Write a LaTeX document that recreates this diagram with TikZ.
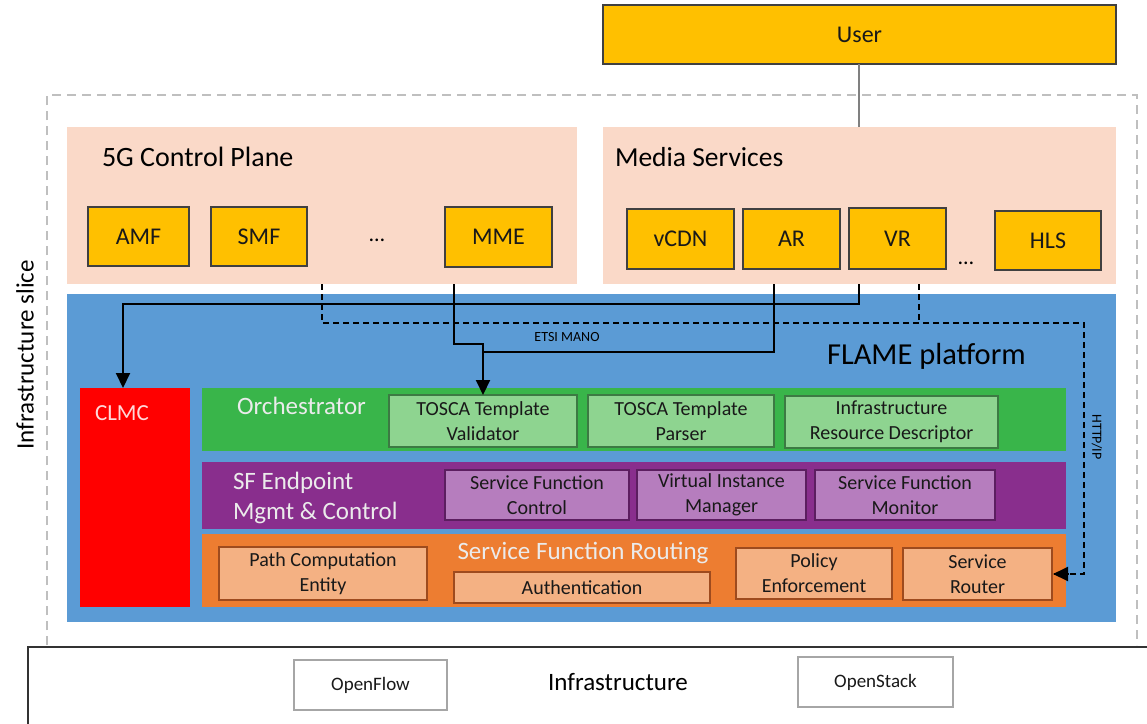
\documentclass[tikz,border=0pt]{standalone}
\usepackage{fontspec}
\setmainfont{Carlito}
\usetikzlibrary{arrows.meta}
\definecolor{gold}{HTML}{FFC000}
\definecolor{peach}{HTML}{FAD9C8}
\definecolor{flblue}{HTML}{5B9BD5}
\definecolor{orchg}{HTML}{39B54A}
\definecolor{orchin}{HTML}{8ED490}
\definecolor{orchbd}{HTML}{3C7A43}
\definecolor{purp}{HTML}{892E8D}
\definecolor{purpin}{HTML}{B67DBE}
\definecolor{purpbd}{HTML}{5C1E60}
\definecolor{orng}{HTML}{ED7D31}
\definecolor{orngin}{HTML}{F4B183}
\definecolor{orngbd}{HTML}{9E4B1E}
\definecolor{slicegray}{HTML}{BFBFBF}
\definecolor{lighttxt}{HTML}{EBEBEB}
\newcommand{\mkbox}[7]{\node[#2, anchor=north west, minimum width={#5-#3}, minimum height={#6-#4}] (#1) at (#3,#4) {#7};}
\tikzset{
  base/.style={inner sep=0pt, outer sep=0pt, align=center, text=black!90},
  goldbox/.style={base, fill=gold, draw=black!75, line width=1.3pt, font=\fontsize{24}{28}\selectfont},
  peachbox/.style={base, fill=peach},
  greenin/.style={base, fill=orchin, draw=orchbd, line width=1.8pt, font=\fontsize{20}{25}\selectfont},
  purpin/.style={base, fill=purpin, draw=purpbd, line width=1.8pt, font=\fontsize{20}{25}\selectfont},
  orngin/.style={base, fill=orngin, draw=orngbd, line width=1.8pt, font=\fontsize{20}{25}\selectfont},
  infrabox/.style={base, fill=white, draw=black!35, line width=2pt, font=\fontsize{19}{23}\selectfont},
  conn/.style={line width=2pt, black},
  dconn/.style={line width=2pt, black, dash pattern=on 6pt off 4pt},
  tip/.style={-{Triangle[length=15pt,width=14pt]}},
  lbl/.style={inner sep=0pt, outer sep=0pt},
}
\begin{document}
\begin{tikzpicture}[x=1pt,y=-1pt]
\useasboundingbox (0,0) rectangle (1147,723);
\fill[white] (0,0) rectangle (1147,723);
% infrastructure slice outline
\draw[slicegray, line width=2.5pt, dash pattern=on 9pt off 6pt] (47,645) -- (47,95) -- (1137,95) -- (1137,645);
\node[lbl, rotate=90, font=\fontsize{25}{30}\selectfont] (slice) at (25,355) {Infrastructure slice};
% user
\mkbox{user}{goldbox}{603}{5}{1116}{64}{User}
% upper containers
\mkbox{cp}{peachbox}{67}{127}{577}{284}{}
\mkbox{ms}{peachbox}{603}{127}{1116}{284}{}
\node[lbl, anchor=west, font=\fontsize{28}{33}\selectfont] (cpl) at (102,157) {5G Control Plane};
\node[lbl, anchor=west, font=\fontsize{27.5}{33}\selectfont] (msl) at (615,157) {Media Services};
\draw[black!50, line width=2pt] (user.south -| 859,0) coordinate (u1) -- (ms.north -| u1);
\mkbox{amf}{goldbox}{88}{207}{189}{266}{AMF}
\mkbox{smf}{goldbox}{211}{207}{307}{266}{SMF}
\node[lbl, font=\fontsize{22}{26}\selectfont] (dots1) at (377,240) {…};
\mkbox{mme}{goldbox}{445}{207}{552}{267}{MME}
\mkbox{vcdn}{goldbox}{627}{209}{734}{269}{vCDN}
\mkbox{ar}{goldbox}{743}{209}{840}{269}{AR}
\mkbox{vr}{goldbox}{849}{208}{946}{269}{VR}
\node[lbl, font=\fontsize{22}{26}\selectfont] (dots2) at (966,263) {…};
\mkbox{hls}{goldbox}{995}{211}{1101}{270}{HLS}
% FLAME platform
\mkbox{flame}{base, fill=flblue}{67}{294}{1116}{622}{}
\node[lbl, anchor=west, font=\fontsize{30.5}{36}\selectfont] (flamel) at (827,356) {FLAME platform};
\mkbox{clmc}{base, fill=red}{80}{388}{190}{607}{}
\node[lbl, anchor=west, text=white!85!red, font=\fontsize{23}{28}\selectfont] (clmcl) at (95,413) {CLMC};
% orchestrator
\mkbox{orch}{base, fill=orchg}{202}{388}{1066}{451}{}
\node[lbl, anchor=west, text=lighttxt, font=\fontsize{25}{30}\selectfont] (orchl) at (237,406) {Orchestrator};
\mkbox{val}{greenin}{389}{395}{577}{447}{TOSCA Template\\Validator}
\mkbox{par}{greenin}{588}{395}{774}{447}{TOSCA Template\\Parser}
\mkbox{ird}{greenin}{785}{396}{998}{448}{Infrastructure\\Resource Descriptor}
% SF endpoint
\mkbox{sfe}{base, fill=purp}{202}{462}{1066}{529}{}
\node[lbl, anchor=west, align=left, text=lighttxt, font=\fontsize{25}{30}\selectfont] (sfel) at (233,498) {SF Endpoint\\Mgmt \& Control};
\mkbox{sfc}{purpin}{445}{470}{629}{520}{Service Function\\Control}
\mkbox{vim}{purpin}{637}{470}{806}{520}{Virtual Instance\\Manager}
\mkbox{sfm}{purpin}{815}{470}{995}{520}{Service Function\\Monitor}
% service function routing
\mkbox{sfr}{base, fill=orng}{202}{534}{1066}{607}{}
\node[lbl, text=lighttxt, font=\fontsize{25}{30}\selectfont] (sfrl) at (583,553) {Service Function Routing};
\mkbox{pce}{orngin}{219}{547}{427}{600}{Path Computation\\Entity}
\mkbox{auth}{orngin}{454}{572}{710}{603}{Authentication}
\mkbox{pe}{orngin}{736}{548}{892}{599}{Policy\\Enforcement}
\mkbox{sr}{orngin}{903}{548}{1052}{600}{Service\\Router}
% infrastructure
\draw[black!80, line width=1.5pt] (1150,647) -- (28,647) -- (28,726);
\node[lbl, font=\fontsize{25}{30}\selectfont] (infl) at (618,682) {Infrastructure};
\mkbox{of}{infrabox}{294}{660}{447}{710}{OpenFlow}
\mkbox{os}{infrabox}{798}{657}{953}{707}{OpenStack}
% connectors
\coordinate (vrout) at (cp.south -| 859,0);
\coordinate (arout) at (cp.south -| 774,0);
\coordinate (mmeout) at (cp.south -| 454,0);
\coordinate (cpdash) at (cp.south -| 322,0);
\coordinate (msdash) at (cp.south -| 919,0);
\coordinate (clmcin) at (clmc.north -| 123,0);
\coordinate (mmejog) at (454,344);
\coordinate (manoj) at (val.north |- 0,352);
\coordinate (dashy) at (322,323);
\coordinate (dashx) at (1084,323);
\draw[conn, tip] (vrout) |- (clmcin |- 0,304) -- (clmcin);
\draw[conn, tip] (mmeout) -- (mmejog) -| (val.north);
\draw[conn] (arout) |- (manoj);
\draw[dconn] (cpdash) -- (dashy) -- (dashx) |- ([xshift=2pt]sr.east);
\draw[dconn] (msdash) -- (msdash |- dashy);
\draw[conn, tip] ([xshift=16pt]sr.east) -- ([xshift=1pt]sr.east);
\node[lbl, font=\fontsize{14}{17}\selectfont] (mano) at (567,337) {ETSI MANO};
\node[lbl, rotate=-90, font=\fontsize{14}{17}\selectfont] (http) at (1097,437) {HTTP/IP};
\end{tikzpicture}
\end{document}
